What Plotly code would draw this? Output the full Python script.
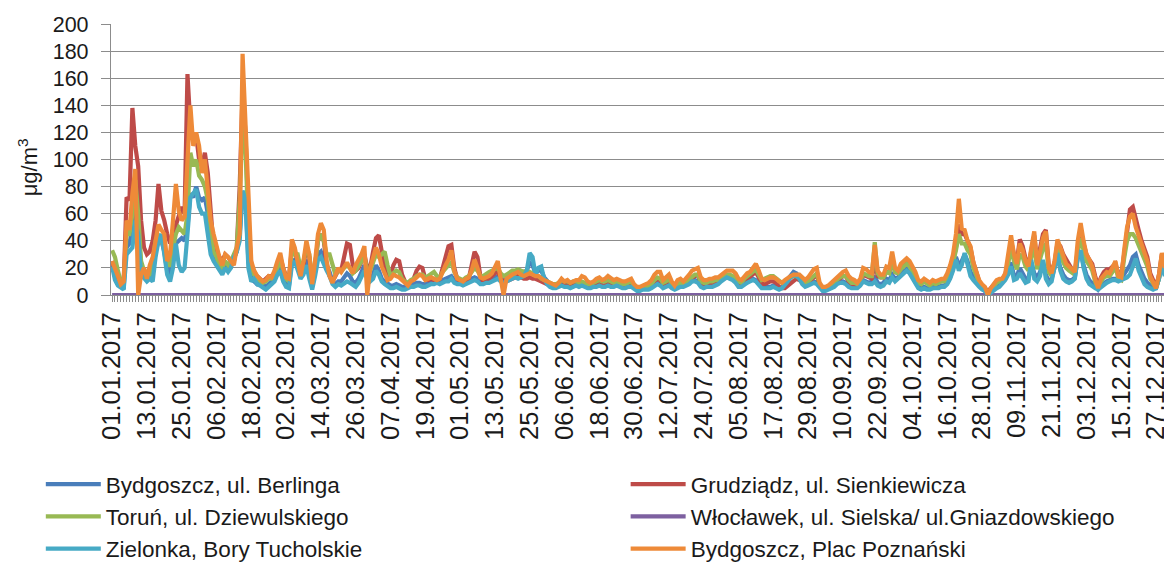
import pandas as pd
import plotly.graph_objects as go

dates = pd.date_range("2017-01-01", "2017-12-31", freq="D")
tick_dates = dates[::12]

names = [
    "Bydgoszcz, ul. Berlinga",
    "Grudziądz, ul. Sienkiewicza",
    "Toruń, ul. Dziewulskiego",
    "Włocławek, ul. Sielska/ ul.Gniazdowskiego",
    "Zielonka, Bory Tucholskie",
    "Bydgoszcz, Plac Poznański",
]
colors = ["#4A7EBB", "#BE4B48", "#98B954", "#7D60A0", "#46AAC5", "#EE8A38"]
legend_column = ["legend", "legend2", "legend", "legend2", "legend", "legend2"]

berlinga = [
    22, 15, 10, 6, 6, 35, 38, 50, 70, 50,
    20, 15, 12, 14, 18, 32, 40, 40, 32, 18,
    15, 28, 38, 40, 42, 40, 50, 75, 72, 80,
    72, 70, 72, 60, 40, 28, 25, 20, 18, 22,
    20, 22, 28, 32, 45, 75, 72, 25, 12, 10,
    8, 10, 7, 6, 8, 9, 12, 16, 20, 12,
    8, 7, 25, 26, 22, 15, 18, 26, 16, 6,
    17, 30, 32, 26, 22, 17, 10, 8, 10, 10,
    13, 16, 14, 10, 9, 12, 17, 22, 14, 13,
    15, 22, 18, 12, 10, 8, 7, 7, 8, 7,
    6, 6, 7, 8, 8, 9, 9, 8, 8, 9,
    10, 10, 11, 10, 11, 12, 13, 14, 11, 10,
    10, 9, 10, 11, 12, 13, 12, 10, 10, 11,
    11, 12, 13, 14, 12, 11, 12, 13, 14, 15,
    14, 15, 16, 18, 24, 22, 16, 18, 18, 13,
    10, 8, 7, 7, 8, 9, 8, 8, 7, 8,
    9, 7, 8, 7, 6, 6, 7, 7, 8, 7,
    7, 8, 7, 7, 8, 7, 6, 6, 7, 7,
    5, 4, 4, 5, 5, 5, 6, 8, 9, 8,
    6, 7, 8, 6, 5, 6, 7, 7, 8, 9,
    11, 11, 10, 7, 6, 7, 7, 7, 8, 9,
    11, 13, 14, 13, 12, 10, 7, 7, 9, 10,
    11, 12, 11, 9, 6, 6, 6, 6, 7, 6,
    5, 6, 9, 12, 15, 17, 16, 13, 9, 7,
    8, 9, 10, 9, 6, 4, 4, 5, 6, 7,
    9, 10, 10, 9, 7, 6, 6, 6, 8, 11,
    10, 9, 10, 14, 9, 8, 9, 12, 11, 15,
    12, 13, 16, 18, 19, 17, 13, 9, 6, 5,
    6, 5, 5, 6, 6, 6, 7, 7, 9, 13,
    20, 28, 22, 25, 30, 25, 17, 13, 10, 7,
    5, 3, 1, 3, 5, 6, 7, 9, 12, 17,
    24, 14, 14, 20, 16, 12, 12, 24, 16, 13,
    17, 25, 15, 10, 12, 19, 28, 20, 15, 12,
    11, 11, 13, 27, 32, 22, 15, 11, 9, 6,
    4, 7, 9, 10, 11, 12, 12, 11, 12, 15,
    18, 22, 28, 30, 22, 16, 12, 9, 7, 5,
    5, 12, 22, 15, 24,
]

grudziadz = [
    25, 18, 12, 8, 10, 72, 70, 138, 110, 95,
    55, 35, 30, 32, 40, 55, 82, 62, 55, 45,
    38, 45, 52, 58, 65, 60, 163, 125, 115, 118,
    100, 95, 105, 90, 60, 35, 33, 28, 25, 30,
    28, 25, 25, 35, 80, 150, 120, 55, 22, 17,
    14, 12, 10, 12, 14, 14, 16, 22, 28, 20,
    14, 12, 35, 32, 25, 15, 22, 35, 28, 10,
    22, 40, 45, 40, 22, 14, 10, 14, 18, 18,
    28, 38, 37, 22, 18, 20, 25, 30, 20, 20,
    32, 42, 44, 30, 20, 12, 14, 22, 26, 25,
    15, 10, 8, 10, 12, 18, 21, 20, 12, 11,
    12, 11, 10, 12, 20, 30, 36, 37, 20, 12,
    10, 9, 10, 12, 22, 32, 28, 14, 10, 11,
    12, 14, 16, 18, 12, 10, 10, 11, 12, 13,
    14, 13, 12, 12, 13, 12, 12, 11, 10, 9,
    8, 8, 7, 6, 7, 8, 8, 9, 8, 8,
    9, 7, 8, 7, 6, 6, 7, 8, 8, 7,
    7, 8, 7, 7, 8, 7, 6, 6, 7, 7,
    5, 4, 4, 5, 5, 6, 7, 10, 12, 11,
    8, 9, 11, 7, 5, 7, 8, 7, 8, 11,
    13, 14, 15, 9, 8, 8, 9, 9, 10, 10,
    12, 13, 14, 14, 13, 12, 8, 8, 10, 12,
    13, 15, 17, 13, 8, 8, 9, 10, 10, 9,
    6, 5, 5, 7, 9, 11, 12, 11, 9, 8,
    9, 11, 14, 15, 7, 4, 4, 5, 7, 9,
    11, 12, 14, 14, 10, 8, 8, 7, 9, 15,
    14, 13, 12, 25, 14, 13, 13, 17, 17, 25,
    17, 16, 20, 22, 24, 23, 19, 15, 10, 9,
    10, 9, 8, 9, 9, 10, 11, 11, 14, 18,
    25, 35, 52, 45, 45, 40, 35, 24, 17, 10,
    7, 5, 3, 5, 8, 10, 11, 12, 15, 25,
    40, 30, 25, 41, 36, 27, 22, 33, 44, 24,
    33, 45, 48, 22, 17, 24, 38, 36, 30, 26,
    22, 19, 17, 35, 48, 38, 30, 26, 23, 14,
    7, 13, 17, 19, 19, 21, 23, 16, 15, 30,
    48, 63, 65, 55, 48, 40, 34, 28, 16, 10,
    6, 15, 30, 22, 32,
]

torun = [
    33, 28, 18, 10, 10, 45, 45, 60, 85, 60,
    25, 18, 15, 15, 25, 40, 45, 40, 35, 22,
    22, 35, 45, 50, 48, 45, 60, 105, 95, 100,
    88, 85, 80, 70, 45, 32, 28, 22, 20, 25,
    22, 25, 30, 35, 70, 125, 110, 45, 20, 15,
    12, 10, 9, 10, 12, 12, 15, 20, 26, 18,
    12, 10, 33, 30, 30, 20, 25, 35, 30, 12,
    22, 40, 45, 40, 30, 30, 22, 15, 18, 17,
    20, 22, 20, 16, 18, 22, 25, 28, 18, 18,
    25, 30, 28, 30, 32, 22, 14, 16, 18, 17,
    12, 10, 9, 11, 12, 14, 15, 15, 13, 14,
    16, 17, 14, 13, 17, 20, 22, 24, 17, 13,
    12, 11, 13, 14, 17, 20, 18, 14, 14, 16,
    17, 18, 19, 20, 16, 14, 15, 17, 18, 18,
    19, 18, 17, 18, 17, 16, 15, 14, 12, 11,
    10, 9, 8, 8, 9, 11, 10, 10, 9, 10,
    10, 9, 10, 9, 8, 8, 9, 10, 11, 10,
    10, 11, 10, 9, 10, 9, 8, 8, 9, 10,
    7, 5, 5, 6, 6, 7, 8, 11, 13, 12,
    9, 10, 12, 8, 6, 8, 9, 8, 10, 12,
    14, 15, 15, 10, 9, 9, 10, 10, 11, 11,
    13, 14, 15, 15, 14, 13, 10, 9, 12, 14,
    15, 17, 19, 15, 11, 12, 13, 14, 14, 12,
    10, 9, 10, 12, 13, 14, 14, 13, 11, 9,
    10, 12, 15, 16, 8, 5, 5, 6, 8, 10,
    12, 13, 14, 14, 11, 9, 9, 8, 10, 16,
    15, 14, 14, 39, 16, 13, 13, 17, 16, 26,
    17, 16, 19, 21, 23, 21, 18, 14, 9, 8,
    10, 8, 7, 9, 8, 9, 10, 10, 13, 18,
    24, 33, 45, 38, 38, 33, 30, 20, 15, 9,
    7, 5, 2, 4, 7, 9, 10, 10, 13, 22,
    34, 25, 19, 30, 28, 21, 18, 28, 36, 19,
    27, 34, 38, 17, 14, 21, 33, 30, 24, 20,
    18, 16, 15, 32, 42, 33, 25, 22, 18, 10,
    5, 10, 13, 14, 14, 17, 21, 12, 11, 27,
    40, 45, 45, 42, 37, 32, 26, 21, 12, 8,
    5, 12, 26, 17, 28,
]

wloclawek = [
    0, 0, 0, 0, 0, 0, 0, 0, 0, 0, 0, 0, 0, 0, 0, 0, 0, 0, 0, 0,
    0, 0, 0, 0, 0, 0, 0, 0, 0, 0, 0, 0, 0, 0, 0, 0, 0, 0, 0, 0,
    0, 0, 0, 0, 0, 0, 0, 0, 0, 0, 0, 0, 0, 0, 0, 0, 0, 0, 0, 0,
    0, 0, 0, 0, 0, 0, 0, 0, 0, 0, 0, 0, 0, 0, 0, 0, 0, 0, 0, 0,
    0, 0, 0, 0, 0, 0, 0, 0, 0, 0, 0, 0, 0, 0, 0, 0, 0, 0, 0, 0,
    0, 0, 0, 0, 0, 0, 0, 0, 0, 0, 0, 0, 0, 0, 0, 0, 0, 0, 0, 0,
    0, 0, 0, 0, 0, 0, 0, 0, 0, 0, 0, 0, 0, 0, 0, 0, 0, 0, 0, 0,
    0, 0, 0, 0, 0, 0, 0, 0, 0, 0, 0, 0, 0, 0, 0, 0, 0, 0, 0, 0,
    0, 0, 0, 0, 0, 0, 0, 0, 0, 0, 0, 0, 0, 0, 0, 0, 0, 0, 0, 0,
    0, 0, 0, 0, 0, 0, 0, 0, 0, 0, 0, 0, 0, 0, 0, 0, 0, 0, 0, 0,
    0, 0, 0, 0, 0, 0, 0, 0, 0, 0, 0, 0, 0, 0, 0, 0, 0, 0, 0, 0,
    0, 0, 0, 0, 0, 0, 0, 0, 0, 0, 0, 0, 0, 0, 0, 0, 0, 0, 0, 0,
    0, 0, 0, 0, 0, 0, 0, 0, 0, 0, 0, 0, 0, 0, 0, 0, 0, 0, 0, 0,
    0, 0, 0, 0, 0, 0, 0, 0, 0, 0, 0, 0, 0, 0, 0, 0, 0, 0, 0, 0,
    0, 0, 0, 0, 0, 0, 0, 0, 0, 0, 0, 0, 0, 0, 0, 0, 0, 0, 0, 0,
    0, 0, 0, 0, 0, 0, 0, 0, 0, 0, 0, 0, 0, 0, 0, 0, 0, 0, 0, 0,
    0, 0, 0, 0, 0, 0, 0, 0, 0, 0, 0, 0, 0, 0, 0, 0, 0, 0, 0, 0,
    0, 0, 0, 0, 0, 0, 0, 0, 0, 0, 0, 0, 0, 0, 0, 0, 0, 0, 0, 0,
    0, 0, 0, 0, 0,
]

zielonka = [
    21, 11, 7, 5, 4, 30, 32, 35, 55, 45,
    15, 12, 10, 12, 10, 28, 40, 45, 30, 15,
    10, 20, 38, 22, 17, 20, 45, 72, 75, 78,
    65, 60, 60, 45, 30, 25, 22, 18, 15, 20,
    17, 20, 28, 32, 40, 77, 70, 20, 10, 12,
    8, 7, 5, 4, 6, 8, 10, 15, 18, 10,
    6, 5, 22, 25, 18, 12, 15, 22, 12, 4,
    14, 26, 28, 22, 18, 14, 8, 6, 8, 7,
    9, 10, 9, 7, 6, 9, 14, 18, 12, 10,
    12, 18, 15, 10, 8, 6, 5, 5, 6, 5,
    4, 4, 5, 6, 6, 7, 7, 6, 6, 7,
    8, 8, 9, 8, 9, 10, 10, 12, 9, 8,
    8, 7, 8, 9, 10, 11, 10, 8, 8, 9,
    9, 10, 11, 12, 10, 9, 10, 11, 12, 13,
    12, 13, 14, 18, 31, 28, 15, 20, 21, 12,
    8, 6, 5, 5, 6, 7, 6, 6, 5, 6,
    7, 6, 7, 6, 5, 5, 6, 6, 7, 6,
    6, 7, 6, 6, 7, 6, 5, 5, 6, 6,
    4, 3, 3, 4, 4, 4, 5, 7, 8, 7,
    5, 6, 7, 5, 4, 5, 6, 6, 7, 8,
    10, 10, 9, 6, 5, 6, 6, 6, 7, 8,
    10, 12, 13, 12, 11, 9, 6, 6, 8, 9,
    10, 11, 10, 8, 5, 5, 5, 5, 6, 5,
    4, 5, 7, 10, 13, 15, 14, 12, 8, 6,
    7, 8, 9, 8, 5, 3, 3, 4, 5, 6,
    8, 9, 9, 8, 6, 5, 5, 5, 7, 10,
    9, 8, 8, 10, 7, 6, 7, 10, 9, 13,
    10, 12, 15, 17, 18, 16, 12, 8, 5, 4,
    5, 4, 4, 5, 5, 5, 6, 6, 8, 12,
    18, 26, 18, 22, 31, 23, 14, 11, 8, 6,
    4, 3, 0, 2, 4, 5, 6, 8, 11, 15,
    21, 11, 12, 16, 12, 9, 10, 26, 12, 10,
    14, 26, 12, 8, 10, 20, 31, 18, 12, 10,
    9, 10, 12, 28, 33, 20, 12, 8, 6, 5,
    4, 6, 8, 9, 10, 11, 11, 10, 11, 12,
    13, 15, 22, 27, 18, 12, 8, 6, 5, 4,
    5, 12, 23, 14, 26,
]

poznanski = [
    25, 20, 14, 8, 10, 55, 48, 75, 93, 0,
    15, 20, 12, 22, 28, 40, 52, 48, 45, 25,
    30, 55, 82, 62, 55, 58, 100, 140, 110, 120,
    110, 90, 100, 80, 55, 45, 35, 28, 22, 30,
    28, 25, 22, 35, 45, 178, 125, 60, 25, 18,
    14, 12, 10, 11, 14, 13, 18, 25, 31, 20,
    13, 12, 41, 35, 26, 14, 25, 40, 30, 8,
    25, 45, 53, 48, 25, 14, 9, 15, 20, 17,
    21, 24, 20, 16, 22, 26, 30, 36, 0, 20,
    28, 35, 30, 21, 16, 11, 12, 15, 14, 13,
    11, 9, 7, 10, 11, 13, 15, 14, 11, 12,
    13, 12, 11, 12, 18, 22, 26, 33, 18, 12,
    11, 10, 12, 13, 18, 26, 20, 13, 12, 13,
    14, 16, 20, 25, 12, 0, 12, 14, 15, 16,
    17, 15, 14, 15, 16, 15, 14, 14, 12, 11,
    10, 9, 8, 7, 9, 12, 10, 11, 9, 10,
    11, 11, 14, 13, 10, 9, 10, 12, 13, 11,
    12, 14, 12, 11, 12, 11, 10, 10, 11, 12,
    8, 6, 6, 7, 8, 9, 11, 15, 17, 17,
    11, 13, 15, 10, 7, 11, 12, 10, 12, 15,
    18, 19, 20, 13, 11, 11, 12, 12, 13, 13,
    15, 17, 18, 18, 18, 16, 12, 11, 14, 16,
    17, 20, 23, 18, 12, 11, 12, 13, 13, 12,
    10, 9, 11, 13, 14, 15, 15, 15, 13, 11,
    13, 16, 19, 20, 9, 6, 6, 7, 9, 12,
    14, 15, 17, 18, 14, 12, 11, 9, 12, 20,
    19, 17, 16, 37, 18, 15, 15, 21, 20, 32,
    20, 18, 23, 25, 27, 25, 21, 17, 11, 10,
    12, 10, 9, 11, 10, 11, 12, 12, 16, 22,
    30, 45, 71, 49, 48, 40, 36, 24, 18, 11,
    8, 6, 0, 5, 8, 11, 12, 12, 16, 28,
    44, 30, 23, 38, 33, 25, 21, 35, 47, 22,
    32, 42, 47, 20, 16, 25, 41, 35, 28, 23,
    21, 19, 17, 40, 53, 40, 30, 26, 21, 12,
    5, 12, 15, 17, 16, 20, 25, 14, 13, 33,
    50, 58, 60, 50, 44, 38, 30, 25, 14, 9,
    5, 15, 31, 20, 33,
]

series = [berlinga, grudziadz, torun, wloclawek, zielonka, poznanski]
for s in series:
    assert len(s) == len(dates), len(s)

FONT = "Liberation Sans"
GRID = "#8C8C8C"
TXT = "#1a1a1a"

fig = go.Figure()
for name, vals, col, leg in zip(names, series, colors, legend_column):
    fig.add_trace(go.Scatter(
        x=dates, y=vals, name=name, mode="lines",
        line=dict(color=col, width=4.2), cliponaxis=False, legend=leg,
    ))

legend_style = dict(
    orientation="v", xref="container", yref="container",
    xanchor="left", yanchor="top",
    font=dict(family=FONT, size=22.5, color=TXT),
    itemwidth=55, bgcolor="rgba(0,0,0,0)", tracegroupgap=0,
)

fig.update_layout(
    width=1172, height=563,
    template="none",
    paper_bgcolor="white", plot_bgcolor="white",
    margin=dict(l=103, r=8, t=16, b=276, autoexpand=False),
    font=dict(family=FONT, color=TXT),
    showlegend=True,
    legend=dict(x=0.028, y=0.192, **legend_style),
    legend2=dict(x=0.527, y=0.192, **legend_style),
    xaxis=dict(
        type="date",
        range=[pd.Timestamp("2016-12-31 15:00"), pd.Timestamp("2018-01-01 12:00")],
        tickmode="array", tickvals=list(tick_dates), tickformat="%d.%m.%Y",
        tickangle=-90, tickfont=dict(family=FONT, size=25.5, color=TXT),
        ticks="outside", ticklen=6, tickcolor=GRID, tickwidth=1,
        minor=dict(dtick=86400000, ticks="outside", ticklen=6, tickcolor=GRID,
                   tickwidth=1, showgrid=False),
        showgrid=False, showline=True, linecolor=GRID, linewidth=1.3,
        zeroline=False, automargin=False, layer="below traces",
    ),
    yaxis=dict(
        range=[0, 200], tickmode="linear", tick0=0, dtick=20,
        tickfont=dict(family=FONT, size=21.5, color=TXT),
        ticks="outside", ticklen=9, tickcolor=GRID, tickwidth=1.3,
        ticklabelstandoff=8,
        showgrid=True, gridcolor=GRID, gridwidth=1.3,
        showline=True, linecolor=GRID, linewidth=1.3,
        zeroline=False, automargin=False, layer="below traces",
    ),
    annotations=[dict(
        text="μg/m<sup>3</sup>", textangle=-90, showarrow=False,
        xref="paper", yref="paper", x=-0.0785, y=0.47,
        xanchor="center", yanchor="middle",
        font=dict(family=FONT, size=22, color=TXT),
    )],
)

fig.write_html("out.html")
